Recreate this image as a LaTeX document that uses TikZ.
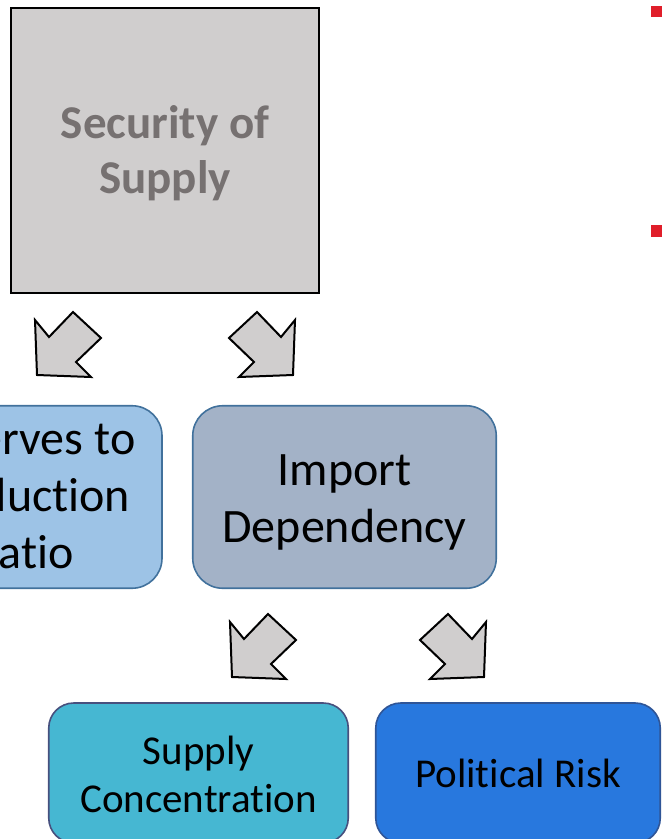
\documentclass[tikz,border=0pt]{standalone}
\usepackage{fontspec}
\setmainfont{Carlito}[Ligatures=NoCommon]

\definecolor{sosgray}{HTML}{D0CECE}
\definecolor{sostext}{HTML}{767171}
\definecolor{resblue}{HTML}{9DC3E6}
\definecolor{impgray}{HTML}{A3B2C7}
\definecolor{concteal}{HTML}{46B7D2}
\definecolor{concedge}{HTML}{47507E}
\definecolor{polblue}{HTML}{2878DE}
\definecolor{poledge}{HTML}{2F5597}
\definecolor{edgeblue}{HTML}{41719C}
\definecolor{bulletred}{HTML}{E01E2A}

\begin{document}
\begin{tikzpicture}[x=1pt, y=-1pt,
    lift/.style={text depth=0pt, text height=#1},
    box/.style={draw=edgeblue, rounded corners=30pt, line width=1.6pt, inner sep=0pt,
                align=center, font=\fontsize{48}{57}\selectfont},
    smallbox/.style={box, rounded corners=25pt, font=\fontsize{41}{48}\selectfont},
    blockarrow/.style={draw=black, fill=sosgray, line width=2pt, line join=miter},
  ]
            \useasboundingbox (0,0) rectangle (663,839);
            \clip (0,0) rectangle (663,839);

            \node[draw=black, fill=sosgray, line width=2.5pt, inner sep=0pt,
                  minimum width=308pt, minimum height=285pt, align=center,
                  text=sostext, font=\fontsize{47}{55}\selectfont\bfseries, lift=85pt]
                  (sos) at (165,150.5) {Security of\\Supply};

            \node[box, fill=resblue, minimum width=278pt, minimum height=182.5pt, lift=142pt]
                  (ratio) at (23,497) {Reserves to\\Production\\Ratio};
            \node[box, fill=impgray, minimum width=303.5pt, minimum height=182.5pt, lift=90pt]
                  (import) at (344.5,497) {Import\\Dependency};

            \node[smallbox, fill=concteal, draw=concedge, minimum width=299.5pt, minimum height=140pt, lift=78pt]
                  (conc) at (198.5,773) {Supply\\Concentration};
            \node[smallbox, fill=polblue, draw=poledge, minimum width=284.5pt, minimum height=140pt, lift=28pt]
                  (risk) at (518,773) {Political Risk};

            % block arrows, tip at the given point
            \draw[blockarrow, shift={(37,375)}] (0,0) -- (-2,-55) -- (12,-38) -- (36,-63)
                  -- (64,-37) -- (39,-13) -- (54,2) -- cycle;
            \draw[blockarrow, shift={(293,375)}, xscale=-1] (0,0) -- (-2,-55) -- (12,-38) -- (36,-63)
                  -- (64,-37) -- (39,-13) -- (54,2) -- cycle;
            \draw[blockarrow, shift={(232,677)}] (0,0) -- (-2,-55) -- (12,-38) -- (36,-63)
                  -- (64,-37) -- (39,-13) -- (54,2) -- cycle;
            \draw[blockarrow, shift={(484,677)}, xscale=-1] (0,0) -- (-2,-55) -- (12,-38) -- (36,-63)
                  -- (64,-37) -- (39,-13) -- (54,2) -- cycle;

            %\node at (600,120) {bullets};
            \fill[bulletred] (651,6) rectangle (662,17);
            \fill[bulletred] (651,225) rectangle (662,237);
        \end{tikzpicture}
\end{document}
